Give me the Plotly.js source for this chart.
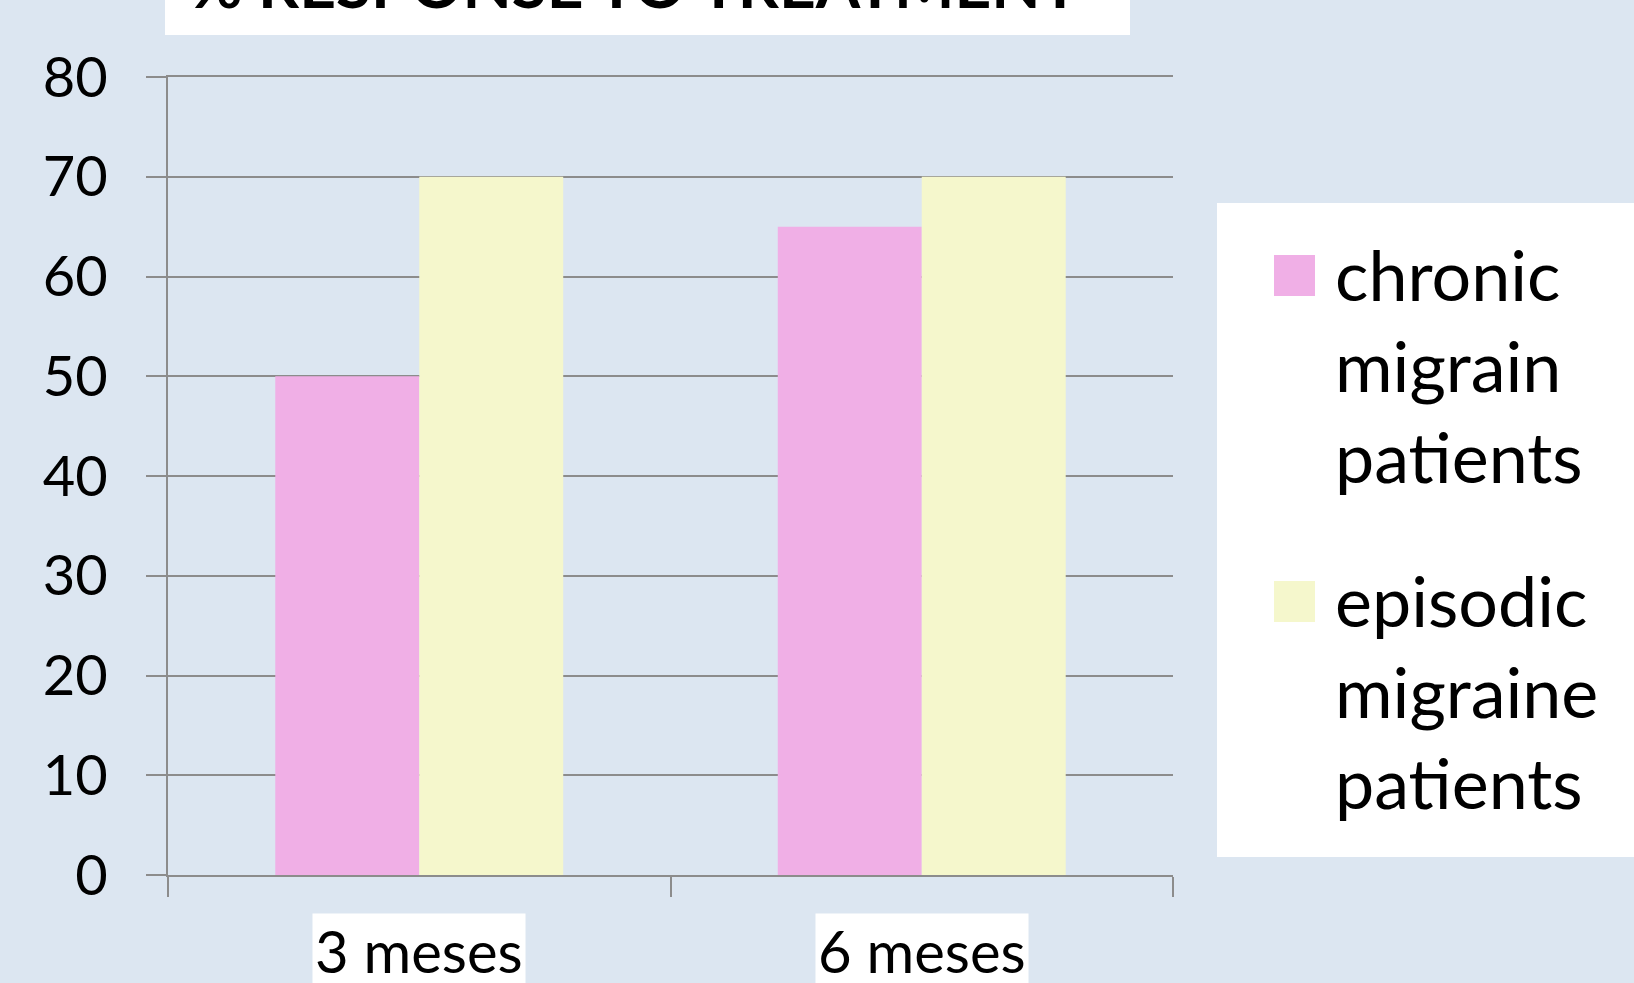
<!DOCTYPE html>
<html>
<head>
<meta charset="utf-8">
<script src="https://cdn.plot.ly/plotly-3.0.1.min.js"></script>
<style>
html,body{margin:0;padding:0;background:#DCE6F1;}
#chart{width:1634px;height:983px;}
</style>
</head>
<body>
<div id="chart"></div>
<script>
// ---- data ----
const categories = ["3 meses", "6 meses"];
const chronicValues = [50, 65];
const episodicValues = [70, 70];
const seriesNames = ["chronic<br>migrain<br>patients", "episodic<br>migraine<br>patients"];
const titleText = "% RESPONSE TO TREATMENT";
const yTickValues = [0, 10, 20, 30, 40, 50, 60, 70, 80];

// ---- style ----
const colors = ["#F0AFE6", "#F5F7CC"];
const bg = "#DCE6F1";
const gridColor = "#8C8C8C";
const fontFamily = "Lato, 'Open Sans', sans-serif";

const traces = [
  {type: "bar", x: categories, y: chronicValues, name: seriesNames[0],
   marker: {color: colors[0]}, showlegend: false, hoverinfo: "skip"},
  {type: "bar", x: categories, y: episodicValues, name: seriesNames[1],
   marker: {color: colors[1]}, showlegend: false, hoverinfo: "skip"}
];

const L = 168, R = 461, T = 77, B = 108;
const W = 1634, H = 983;
const pw = W - L - R, ph = H - T - B;
const px2x = p => (p - L) / pw;
const px2y = p => (H - B - p) / ph;

const shapes = [
  // title box
  {type: "rect", xref: "paper", yref: "paper", x0: px2x(165), x1: px2x(1130), y0: px2y(35), y1: px2y(-20),
   fillcolor: "#FFFFFF", line: {width: 0}, layer: "below"},
  // legend box
  {type: "rect", xref: "paper", yref: "paper", x0: px2x(1217), x1: px2x(1660), y0: px2y(857), y1: px2y(203),
   fillcolor: "#FFFFFF", line: {width: 0}, layer: "below"},
  // legend swatches
  {type: "rect", xref: "paper", yref: "paper", x0: px2x(1274), x1: px2x(1315), y0: px2y(296), y1: px2y(255),
   fillcolor: colors[0], line: {width: 0}},
  {type: "rect", xref: "paper", yref: "paper", x0: px2x(1274), x1: px2x(1315), y0: px2y(622), y1: px2y(581),
   fillcolor: colors[1], line: {width: 0}}
];

const annotations = [];
categories.forEach(c => {
  annotations.push({text: c, x: c, xref: "x", yref: "paper", y: px2y(913), yanchor: "top", xanchor: "center",
    showarrow: false, bgcolor: "#FFFFFF", borderpad: 2, font: {family: fontFamily, size: 58, color: "#000"}});
});
seriesNames.forEach((n, i) => {
  annotations.push({text: n, xref: "paper", yref: "paper", x: px2x(1333), y: px2y(i === 0 ? 230 : 556),
    xanchor: "left", yanchor: "top", align: "left", showarrow: false,
    font: {family: fontFamily, size: 70, color: "#000"}});
});

const layout = {
  width: W, height: H,
  paper_bgcolor: bg, plot_bgcolor: bg,
  margin: {l: L, r: R, t: T, b: B, pad: 0},
  title: {text: "<b>" + titleText + "</b>", x: 190 / W, xanchor: "left", xref: "container",
    y: 1 - 8 / H, yanchor: "bottom", yref: "container",
    font: {family: fontFamily, size: 64, color: "#000"}},
  barmode: "group", bargap: 0.427, bargroupgap: 0,
  showlegend: false,
  xaxis: {type: "category", showline: true, mirror: true, linecolor: gridColor, linewidth: 2,
    ticks: "outside", tickson: "boundaries", ticklen: 20, tickwidth: 2, tickcolor: gridColor,
    showgrid: false, showticklabels: false, zeroline: false, fixedrange: true},
  yaxis: {range: [0, 80], tickvals: yTickValues, showline: true, linecolor: gridColor, linewidth: 2,
    ticks: "outside", ticklen: 20, tickwidth: 2, tickcolor: gridColor,
    showgrid: true, gridcolor: gridColor, gridwidth: 2, zeroline: false,
    ticklabelstandoff: 27,
    tickfont: {family: fontFamily, size: 56, color: "#000"}, fixedrange: true},
  shapes: shapes,
  annotations: annotations
};

Plotly.newPlot("chart", traces, layout, {displayModeBar: false, staticPlot: true});
</script>
</body>
</html>
